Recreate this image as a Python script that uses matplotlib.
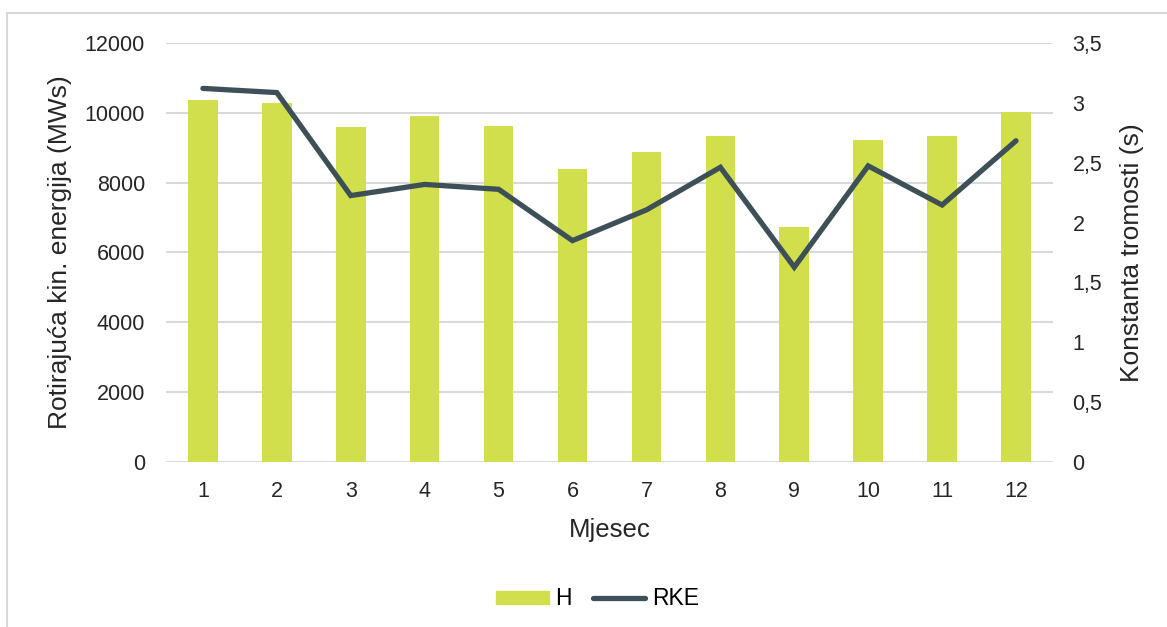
import matplotlib.pyplot as plt
from matplotlib.lines import Line2D
from matplotlib.patches import Patch
from matplotlib.ticker import FuncFormatter

# monthly inertia constant H [s] and rotating kinetic energy RKE [MWs]
months = list(range(1, 13))
h_const = [3.02, 3.00, 2.80, 2.89, 2.81, 2.45, 2.59, 2.72, 1.96, 2.69, 2.72, 2.92]
rke = [10700, 10580, 7630, 7950, 7810, 6340, 7220, 8440, 5580, 8480, 7360, 9200]

BAR = "#d2df4d"
LINE = "#3d5057"
GRID = "#d9d9d9"
TXT = "#262626"

plt.rcParams["font.family"] = ["Liberation Sans", "DejaVu Sans"]

fig = plt.figure(figsize=(11.67, 6.27), dpi=100)
ax = fig.add_axes([0.1422, 0.2632, 0.7601, 0.6682])
ax2 = ax.twinx()

# H bars on the right axis, RKE line on the left axis drawn on top
ax2.bar(months, h_const, width=0.4, color=BAR, zorder=2)
ax.plot(months, rke, color=LINE, lw=3.8, solid_capstyle="round",
        solid_joinstyle="miter", zorder=3)
ax.set_zorder(ax2.get_zorder() + 1)
ax.patch.set_visible(False)

ax.set_xlim(0.5, 12.5)
ax.set_ylim(0, 12000)
ax2.set_ylim(0, 3.5)
left_ticks = list(range(0, 12001, 2000))
ax.set_yticks(left_ticks)
ax2.set_yticks([0, 0.5, 1, 1.5, 2, 2.5, 3, 3.5])
ax2.yaxis.set_major_formatter(FuncFormatter(lambda v, _: f"{v:g}".replace(".", ",")))
ax.set_xticks(months)

# grid follows the left axis ticks, drawn behind the bars
for v in left_ticks:
    ax2.axhline(v * 3.5 / 12000, color=GRID, lw=1.5, zorder=0)

for a in (ax, ax2):
    for s in a.spines.values():
        s.set_visible(False)
    a.tick_params(length=0, labelsize=15.5, colors=TXT)
ax.tick_params(axis="y", pad=15)
ax.tick_params(axis="x", pad=14)
ax2.tick_params(axis="y", pad=14)

ax.set_ylabel("Rotirajuća kin. energija (MWs)", fontsize=19, color=TXT, labelpad=9)
ax2.set_ylabel("Konstanta tromosti (s)", fontsize=19, color=TXT, labelpad=13)
ax.set_xlabel("Mjesec", fontsize=18.5, color=TXT, labelpad=11)

handles = [Patch(color=BAR, label="H"),
           Line2D([], [], color=LINE, lw=3.8, solid_capstyle="round", label="RKE")]
fig.legend(handles=handles, loc="center", bbox_to_anchor=(0.512, 0.045), ncol=2,
           frameon=False, fontsize=16.5, handlelength=2.3, handleheight=0.5,
           handletextpad=0.3, columnspacing=0.9)

# outer frame: top and left edges only
fig.add_artist(Line2D([7 / 1167, 1.0], [1 - 13 / 627] * 2, color=GRID, lw=1.5))
fig.add_artist(Line2D([7 / 1167] * 2, [0.0, 1 - 13 / 627], color=GRID, lw=1.5))

fig.savefig("out.png", dpi=100)
